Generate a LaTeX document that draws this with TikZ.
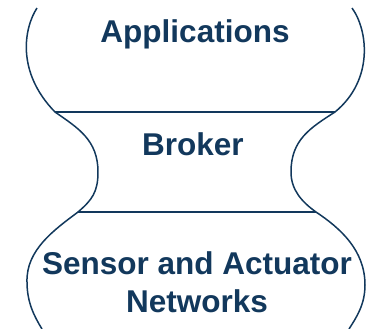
\documentclass[tikz,border=0pt]{standalone}
\usepackage{fontspec}
\setmainfont{Liberation Sans}
\definecolor{navy}{RGB}{18,56,92}
\tikzset{
  outline/.style={draw=navy, line width=1.5bp, line join=round},
  layer/.style={text=navy, font=\bfseries\fontsize{31.5bp}{38bp}\selectfont, inner sep=0pt, anchor=base, align=center}
}
\begin{document}
\begin{tikzpicture}[x=1bp, y=-1bp]
  \useasboundingbox (0,0) rectangle (367,329);

  % layer boundaries
  \coordinate (tl) at (55,112);
  \coordinate (tr) at (335,112);
  \coordinate (bl) at (78,212);
  \coordinate (br) at (316,212);

  % left profile
  \draw[outline] (37,8) .. controls (24,28) and (16,72) .. (tl)
    .. controls (78,128) and (98,140) .. (98,172)
    .. controls (98,192) and (92,200) .. (bl)
    .. controls (54,230) and (26,250) .. (27,282)
    .. controls (27,302) and (34,316) .. (42,329);

  % right profile
  \draw[outline] (352,8) .. controls (368,30) and (374,80) .. (tr)
    .. controls (310,128) and (291,140) .. (291,172)
    .. controls (291,190) and (302,202) .. (br)
    .. controls (340,228) and (365,250) .. (365,285)
    .. controls (365,305) and (356,318) .. (349,329);

  % separators
  \draw[outline] (tl) -- (tr);
  \draw[outline] (bl) -- (br);

  % labels
  \node[layer] (apps) at (195,42) {Applications};
  \node[layer] (broker) at (193,155) {Broker};
  \node[layer, anchor=north] (san) at (197,251) {Sensor and Actuator\\Networks};
\end{tikzpicture}
\end{document}
